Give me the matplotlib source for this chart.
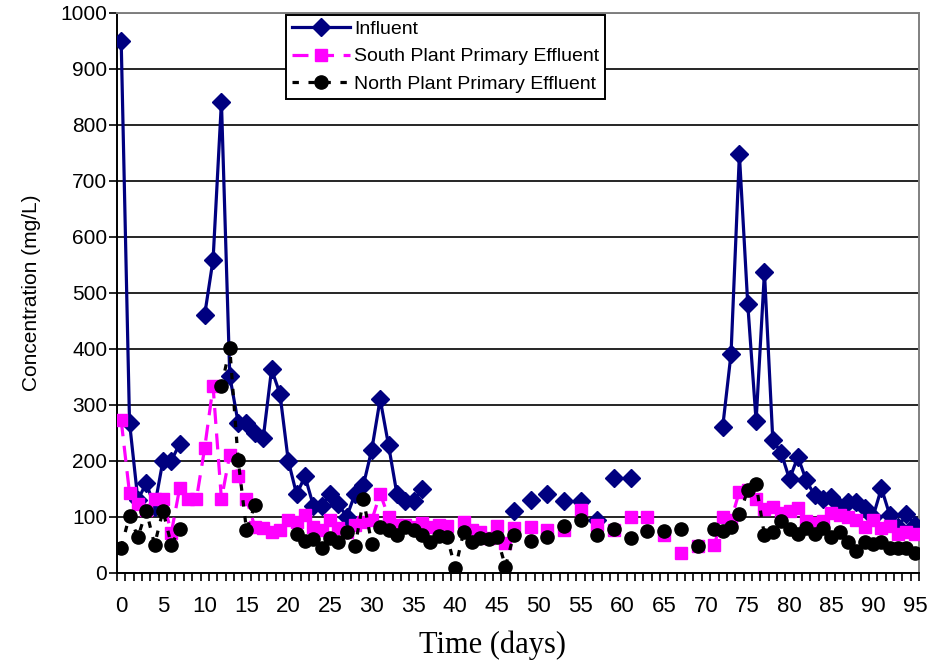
import numpy as np
import matplotlib
matplotlib.use("Agg")
import matplotlib.pyplot as plt

nan = np.nan

# day index 0..95 (category axis)
days = np.arange(96)

influent = [
    950, 268, 130, 160, 118, 200, 200, 230, nan, nan,
    461, 559, 841, 351, 268, 268, 250, 240, 363, 320,
    200, 140, 172, 120, 120, 140, 122, 100, 141, 157,
    220, 310, 228, 141, 128, 128, 150, nan, nan, nan,
    nan, nan, nan, nan, nan, nan, nan, 110, nan, 130,
    nan, 140, nan, 128, nan, 128, nan, 95, nan, 170,
    nan, 170, nan, nan, nan, nan, nan, nan, nan, nan,
    nan, nan, 260, 391, 747, 480, 271, 537, 237, 214,
    167, 207, 165, 138, 131, 135, 118, 127, 127, 116,
    100, 151, 103, 82, 104, 86,
]

south = [
    272, 142, 123, 112, 131, 131, 71, 151, 131, 131,
    223, 333, 131, 211, 172, 131, 82, 80, 73, 76,
    94, 91, 103, 82, 76, 94, 79, 73, 85, 91,
    94, 141, 100, 85, 85, 82, 88, 82, 85, 84,
    nan, 91, 76, 73, 62, 84, 53, 80, nan, 82,
    nan, 76, nan, 76, nan, 112, nan, 85, nan, 76,
    nan, 100, nan, 100, nan, 67, nan, 36, nan, 48,
    nan, 50, 100, 94, 145, 148, 131, 114, 117, 106,
    111, 115, 93, 88, 93, 106, 103, 99, 95, 81,
    94, 79, 84, 69, 73, 70,
]

north = [
    45, 102, 63, 111, 50, 111, 50, 78, nan, nan,
    nan, nan, 333, 401, 202, 76, 121, nan, nan, nan,
    nan, 70, 56, 60, 45, 62, 55, 73, 47, 131,
    51, 82, 76, 67, 82, 76, 67, 55, 65, 64,
    8, 73, 55, 62, 60, 63, 11, 68, nan, 57,
    nan, 64, nan, 84, nan, 95, nan, 67, nan, 78,
    nan, 62, nan, 75, nan, 75, nan, 78, nan, 48,
    nan, 78, 74, 81, 104, 147, 158, 67, 73, 92,
    78, 70, 79, 70, 79, 63, 73, 55, 39, 54,
    52, 55, 45, 45, 44, 35,
]

x_labels = list(range(0, 96, 5))
y_ticks = list(range(0, 1001, 100))

fig = plt.figure(figsize=(9.35, 6.68), dpi=100)
ax = fig.add_axes([117 / 935, 1 - 572.7 / 668, 802 / 935, 560 / 668])

ax.plot(days, influent, color="#000080", linewidth=2.3, marker="D",
        markersize=9, label="Influent", zorder=3)
ax.plot(days, south, color="#FF00FF", linewidth=2.3, linestyle=(0, (5, 3)),
        marker="s", markersize=8.5, label="South Plant Primary Effluent", zorder=4)
ax.plot(days, north, color="black", linewidth=2.3, linestyle=(0, (2, 3)),
        marker="o", markersize=9.5, label="North Plant Primary Effluent", zorder=5)

ax.set_xlim(-0.5, 95.5)
ax.set_ylim(0, 1000)

# category style ticks: small marks between days, labels every 5 days
ax.set_xticks(x_labels)
ax.set_xticklabels([str(v) for v in x_labels], fontsize=16, family="Liberation Sans")
ax.set_xticks(np.arange(-0.5, 96, 1), minor=True)
ax.tick_params(axis="x", which="major", length=0, pad=17)
ax.tick_params(axis="x", which="minor", length=6, width=1.2, direction="out")

ax.set_yticks(y_ticks)
ax.set_yticklabels([str(v) for v in y_ticks], fontsize=15, family="Liberation Sans")
ax.tick_params(axis="y", length=6, width=1.2, direction="out", pad=1)

ax.yaxis.grid(True, color="black", linewidth=1.2)
ax.set_axisbelow(True)

for side in ["left", "bottom"]:
    ax.spines[side].set_color("black")
    ax.spines[side].set_linewidth(1.4)
for side in ["top", "right"]:
    ax.spines[side].set_color("#808080")
    ax.spines[side].set_linewidth(1.4)

ax.set_ylabel("Concentration (mg/L)", fontsize=15, family="Liberation Sans", labelpad=14)
fig.text(493 / 935, 1 - 645 / 668, "Time (days)", fontsize=22,
         family="Liberation Serif", ha="center", va="center")

leg = ax.legend(loc="upper left", bbox_to_anchor=(167 / 802, 1.0), frameon=True,
                fancybox=False, edgecolor="black", framealpha=1,
                prop={"family": "Liberation Sans", "size": 14},
                handlelength=3.0, handletextpad=0.2, labelspacing=0.5,
                borderpad=0.3, borderaxespad=0.1)
leg.get_frame().set_linewidth(1.4)

fig.savefig("out.png", dpi=100)
